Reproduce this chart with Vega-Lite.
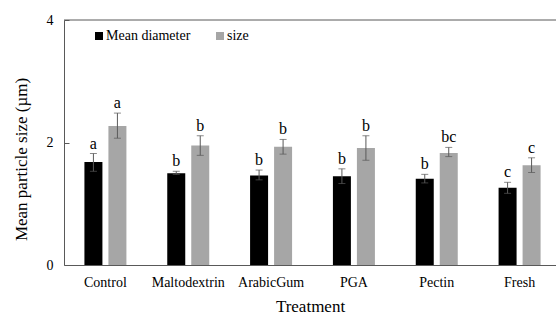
{
  "$schema": "https://vega.github.io/schema/vega-lite/v6.json",
  "width": 492,
  "height": 245,
  "autosize": {"type": "none"},
  "padding": {"left": 64, "top": 20, "right": 0, "bottom": 47},
  "background": "white",
  "config": {
    "view": {"stroke": null},
    "font": "Liberation Serif",
    "axis": {"labelFont": "Liberation Serif", "titleFont": "Liberation Serif", "grid": false, "domainColor": "#595959", "tickColor": "#595959", "labelColor": "#000000", "titleColor": "#000000", "titleFontWeight": "normal"},
    "legend": {"labelFont": "Liberation Serif"}
  },
  "data": {
    "values": [
      {"treatment": "Control", "series": "Mean diameter", "value": 1.68, "lo": 1.53, "hi": 1.82, "letter": "a"},
      {"treatment": "Control", "series": "size", "value": 2.27, "lo": 2.07, "hi": 2.48, "letter": "a"},
      {"treatment": "Maltodextrin", "series": "Mean diameter", "value": 1.50, "lo": 1.48, "hi": 1.53, "letter": "b"},
      {"treatment": "Maltodextrin", "series": "size", "value": 1.95, "lo": 1.79, "hi": 2.11, "letter": "b"},
      {"treatment": "ArabicGum", "series": "Mean diameter", "value": 1.46, "lo": 1.39, "hi": 1.55, "letter": "b"},
      {"treatment": "ArabicGum", "series": "size", "value": 1.93, "lo": 1.81, "hi": 2.05, "letter": "b"},
      {"treatment": "PGA", "series": "Mean diameter", "value": 1.45, "lo": 1.33, "hi": 1.57, "letter": "b"},
      {"treatment": "PGA", "series": "size", "value": 1.91, "lo": 1.71, "hi": 2.11, "letter": "b"},
      {"treatment": "Pectin", "series": "Mean diameter", "value": 1.41, "lo": 1.34, "hi": 1.48, "letter": "b"},
      {"treatment": "Pectin", "series": "size", "value": 1.83, "lo": 1.77, "hi": 1.92, "letter": "bc"},
      {"treatment": "Fresh", "series": "Mean diameter", "value": 1.26, "lo": 1.17, "hi": 1.35, "letter": "c"},
      {"treatment": "Fresh", "series": "size", "value": 1.63, "lo": 1.51, "hi": 1.75, "letter": "c"}
    ]
  },
  "encoding": {
    "x": {
      "field": "treatment", "type": "nominal",
      "sort": ["Control", "Maltodextrin", "ArabicGum", "PGA", "Pectin", "Fresh"],
      "scale": {"range": [0, 497], "paddingInner": 0.493, "paddingOuter": 0.2465},
      "axis": {"title": "Treatment", "labelAngle": 0, "ticks": false, "labelFont": "Liberation Serif", "labelFontSize": 14, "labelPadding": 10, "titleFont": "Liberation Serif", "titleFontSize": 17, "titlePadding": 9, "titleX": 246}
    },
    "xOffset": {
      "field": "series", "type": "nominal",
      "sort": ["Mean diameter", "size"],
      "scale": {"paddingInner": 0.25, "paddingOuter": 0}
    }
  },
  "layer": [
    {
      "mark": {"type": "bar"},
      "encoding": {
        "y": {
          "field": "value", "type": "quantitative",
          "scale": {"domain": [0, 4]},
          "axis": {"title": "Mean particle size (µm)", "values": [0, 2, 4], "format": "d", "tickSize": -5, "labelPadding": 16, "labelFont": "Liberation Serif", "labelFontSize": 14, "titleFont": "Liberation Serif", "titleFontSize": 17, "titleX": -43, "titleY": 139, "titleAlign": "center", "titleBaseline": "middle"}
        },
        "color": {
          "field": "series", "type": "nominal",
          "sort": ["Mean diameter", "size"],
          "scale": {"domain": ["Mean diameter", "size"], "range": ["#000000", "#a6a6a6"]},
          "legend": {"title": null, "orient": "none", "legendX": 28, "legendY": 9, "direction": "horizontal", "symbolType": "square", "symbolSize": 64, "symbolStrokeWidth": 0, "labelFont": "Liberation Serif", "labelFontSize": 14, "labelOffset": 0, "columnPadding": 22, "padding": 0, "labelColor": "#000000"}
        }
      }
    },
    {
      "mark": {"type": "rule", "color": "#595959", "strokeWidth": 1},
      "encoding": {
        "y": {"field": "lo", "type": "quantitative"},
        "y2": {"field": "hi"}
      }
    },
    {
      "mark": {"type": "tick", "color": "#595959", "size": 7, "thickness": 1, "orient": "horizontal"},
      "encoding": {"y": {"field": "lo", "type": "quantitative"}}
    },
    {
      "mark": {"type": "tick", "color": "#595959", "size": 7, "thickness": 1, "orient": "horizontal"},
      "encoding": {"y": {"field": "hi", "type": "quantitative"}}
    },
    {
      "mark": {"type": "text", "baseline": "alphabetic", "dy": -5, "fontSize": 16, "font": "Liberation Serif", "color": "#000000"},
      "encoding": {
        "y": {"field": "hi", "type": "quantitative"},
        "text": {"field": "letter"}
      }
    },
    {
      "data": {"values": [{"top": 4}]},
      "mark": {"type": "rule", "color": "#595959", "strokeWidth": 1},
      "encoding": {"y": {"field": "top", "type": "quantitative"}, "x": {"value": 0}, "x2": {"value": 492}, "xOffset": null}
    }
  ]
}
